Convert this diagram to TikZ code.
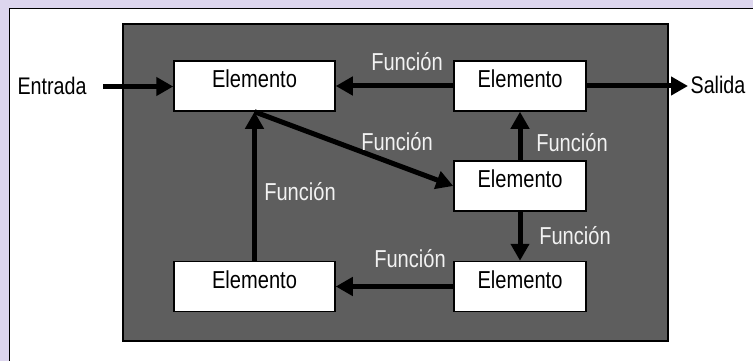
\documentclass[tikz,border=0pt]{standalone}
\usepackage{fontspec}
\setmainfont{Liberation Sans}[FakeStretch=0.82]
\usetikzlibrary{arrows.meta}
\definecolor{lav}{HTML}{DDD6EE}
\definecolor{panel}{HTML}{5E5E5E}
\definecolor{labelc}{HTML}{F2F2F2}
\tikzset{
  elem/.style={draw=black, line width=1.5pt, fill=white, minimum width=161pt, minimum height=50pt,
    inner sep=0pt, text height=17.5pt, text depth=14pt, font=\fontsize{24.5}{28}\selectfont},
  elemr/.style={elem, minimum width=132pt},
  flow/.style={line width=5pt, -{Triangle[length=17pt,width=18pt]}},
  fn/.style={text=labelc, inner sep=0pt, font=\fontsize{24.5}{28}\selectfont},
  io/.style={text=black, inner sep=0pt, font=\fontsize{24}{28}\selectfont}
}
\begin{document}
\begin{tikzpicture}[x=1pt,y=-1pt]
\useasboundingbox (0,0) rectangle (753,361);
\fill[lav] (0,0) rectangle (753,361);
\draw[fill=white, line width=1pt] (9,9) rectangle (760,370);
\draw[fill=panel, line width=1.3pt] (123,24) rectangle (668,341);
% boxes
\node[elem]  (b1) at (254.5,86) {Elemento};
\node[elemr] (b2) at (520,86) {Elemento};
\node[elemr] (b3) at (520,186) {Elemento};
\node[elemr] (b4) at (520,286.5) {Elemento};
\node[elem]  (b5) at (254.5,286.5) {Elemento};
% io
\node[io] (in) at (52,86) {Entrada};
\node[io] (out) at (718,85) {Salida};
\coordinate (inS) at (103,86.5);
\coordinate (outE) at (688,86);
% connectors
\draw[flow] (inS) -- (b1.west |- inS);
\draw[flow] (b2.west) -- (b1.east);
\draw[flow] (b2.east) -- (outE);
\draw[flow] (b1.south) -- (b3.west);
\draw[flow] (b3.north) -- (b2.south);
\draw[flow] (b3.south) -- (b4.north);
\draw[flow] (b4.west) -- (b5.east);
\draw[flow] (b5.north) -- (b1.south);
% labels
\node[fn] (f1) at (407,62) {Función};
\node[fn] (f2) at (397,142) {Función};
\node[fn] (f3) at (572,143) {Función};
\node[fn] (f4) at (300,192) {Función};
\node[fn] (f5) at (575,236) {Función};
\node[fn] (f6) at (410,259) {Función};
\end{tikzpicture}
\end{document}
